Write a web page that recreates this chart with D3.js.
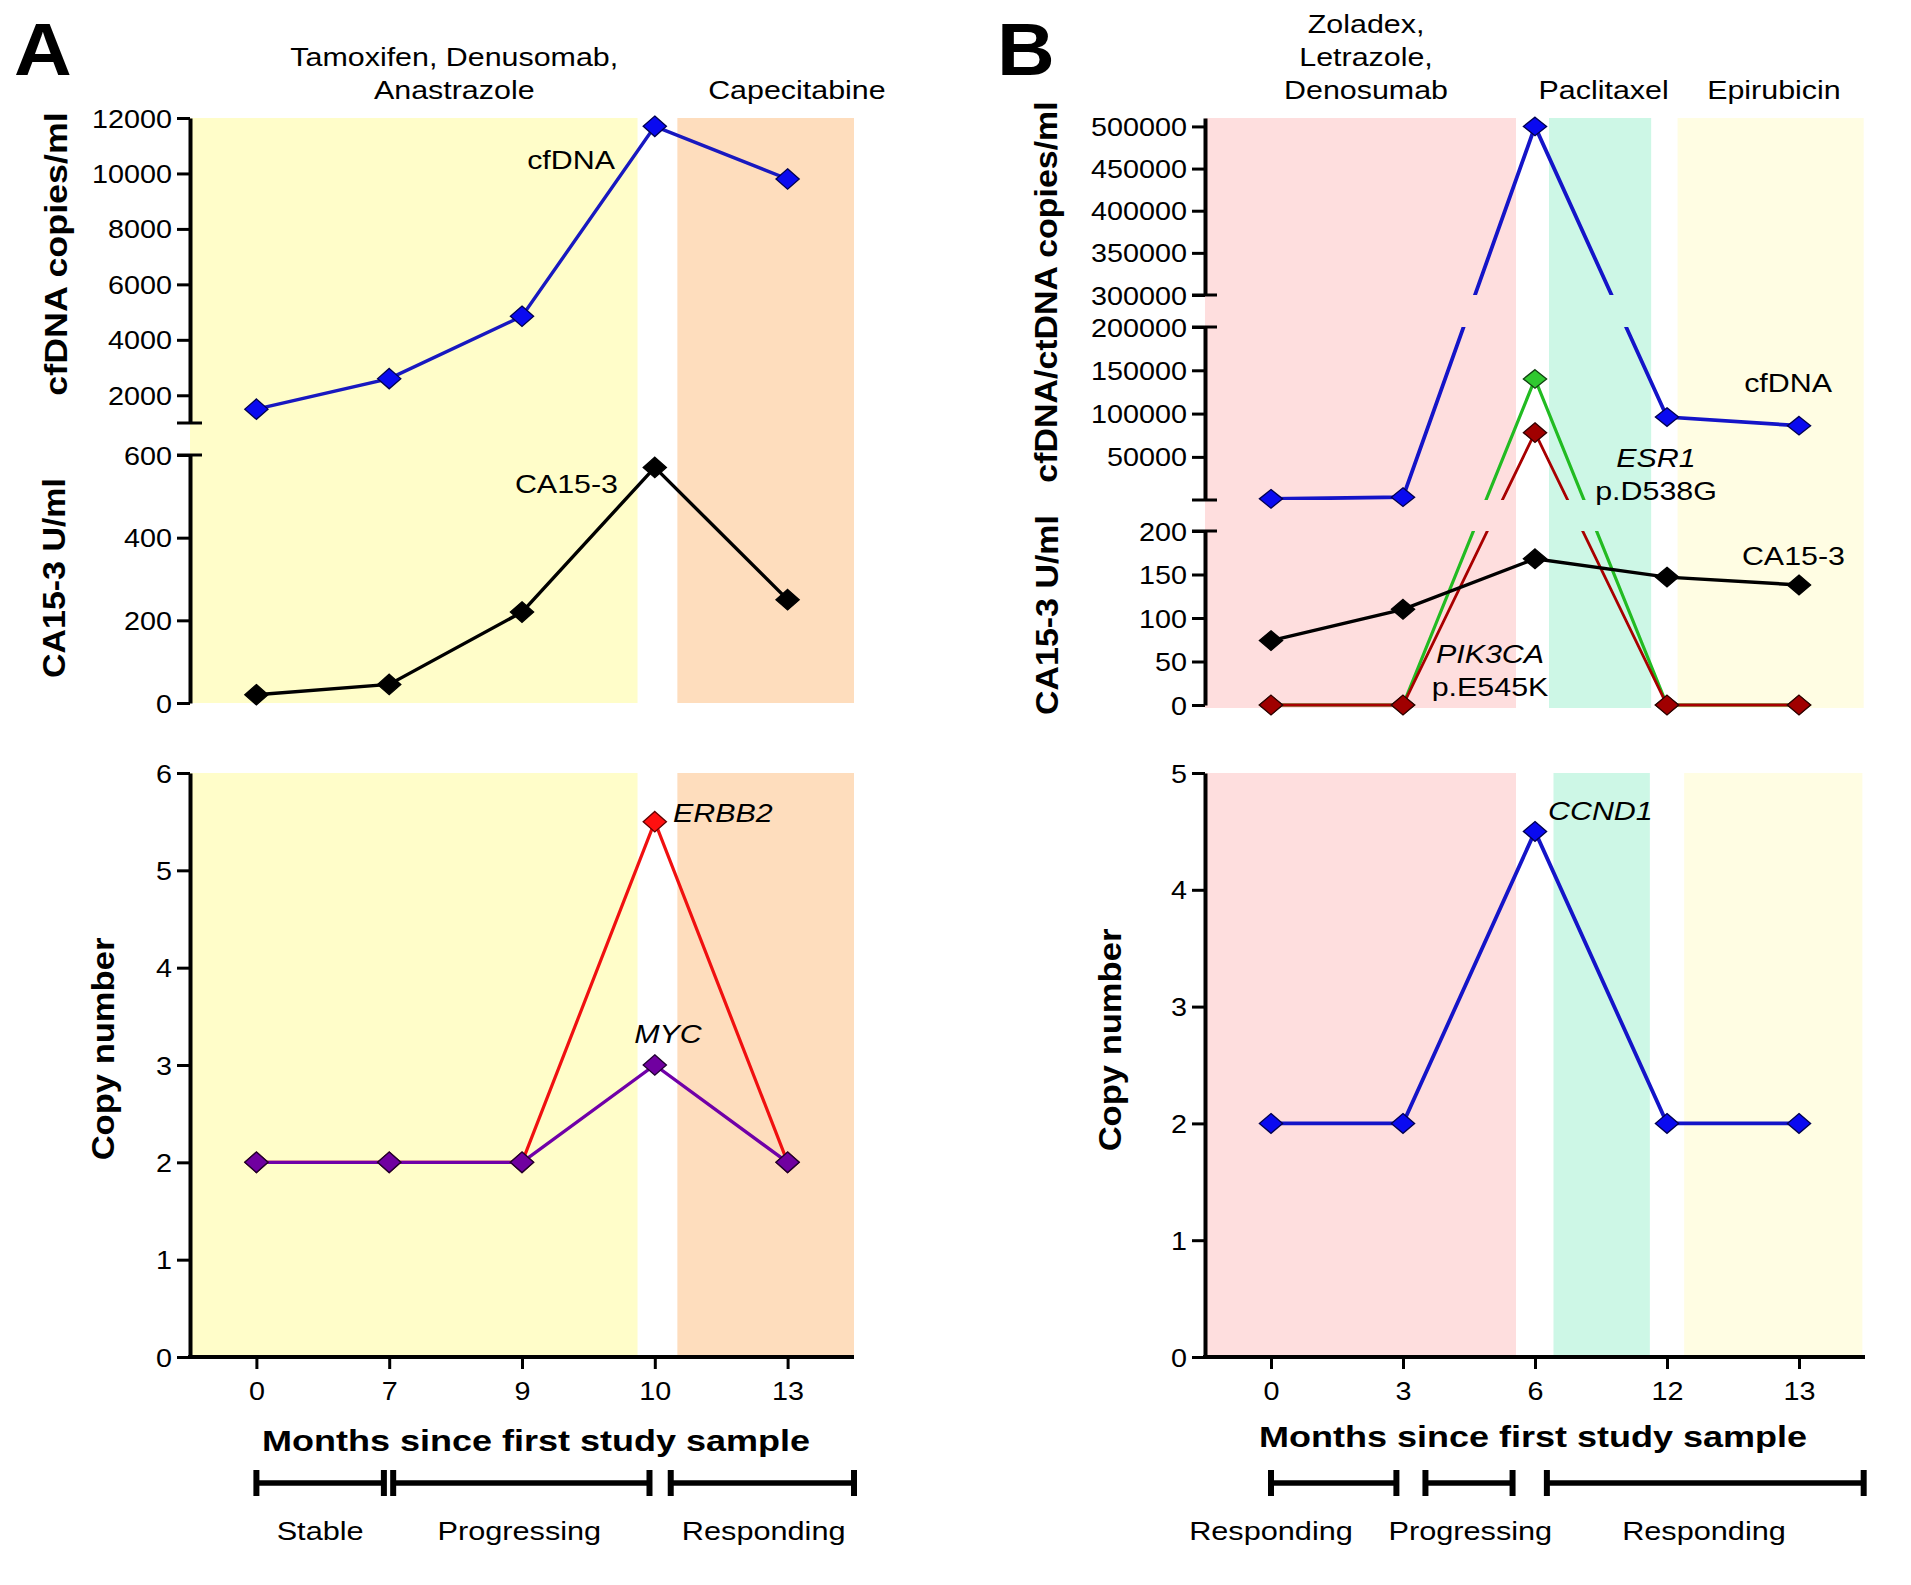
<!DOCTYPE html>
<html><head><meta charset="utf-8">
<script src="https://cdn.jsdelivr.net/npm/d3@7"></script>
<style>
body{margin:0;background:#fff;}
text{font-family:"Liberation Sans",Arial,Helvetica,sans-serif;fill:#000;}
</style></head><body><svg id="c" width="1911" height="1585"></svg>
<script>
// ---------------- DATA ----------------
const monthsA = ["0","7","9","10","13"];
const cfdnaA  = [1500, 2600, 4850, 11700, 9800];
const ca153A  = [20, 45, 220, 570, 250];
const erbb2A  = [2, 2, 2, 5.5, 2];
const mycA    = [2, 2, 2, 3, 2];

const monthsB = ["0","3","6","12","13"];
const cfdnaB  = [1500, 3500, 500000, 96000, 86000];
const esr1B   = [0, 0, 140000, 0, 0];
const pik3caB = [0, 0, 78000, 0, 0];
const ca153B  = [74, 110, 168, 147, 138];
const ccnd1B  = [2, 2, 4.5, 2, 2];

const ticksA_cfdna = [2000, 4000, 6000, 8000, 10000, 12000];
const ticksA_ca    = [0, 200, 400, 600];
const ticksA_cn    = [0, 1, 2, 3, 4, 5, 6];
const ticksB_high  = [300000, 350000, 400000, 450000, 500000];
const ticksB_mid   = [50000, 100000, 150000, 200000];
const ticksB_ca    = [0, 50, 100, 150, 200];
const ticksB_cn    = [0, 1, 2, 3, 4, 5];

const treatA = [["Tamoxifen, Denusomab,", "Anastrazole"], ["Capecitabine"]];
const treatB = [["Zoladex,", "Letrazole,", "Denosumab"], ["Paclitaxel"], ["Epirubicin"]];
const phasesA = ["Stable", "Progressing", "Responding"];
const phasesB = ["Responding", "Progressing", "Responding"];
const xTitle = "Months since first study sample";

// ---------------- LAYOUT ----------------
const svg = d3.select("#c");
svg.append("rect").attr("width",1911).attr("height",1585).attr("fill","#fff");

function label(g, str, x, y, o={}) {
  return g.append("text")
    .attr("transform", `translate(${x},${y})` + (o.rot ? ` rotate(${o.rot})` : "") + ` scale(${o.sx||1.17},1)`)
    .attr("text-anchor", o.anchor || "middle")
    .attr("font-size", o.size || 26)
    .attr("font-weight", o.weight || "normal")
    .attr("font-style", o.italic ? "italic" : "normal")
    .text(str);
}
function segScale(segs) {
  const sc = segs.map(s => d3.scaleLinear().domain(s.d).range(s.r));
  const f = v => {
    for (let i = 0; i < segs.length; i++) if (v >= segs[i].d[0] && v <= segs[i].d[1]) return sc[i](v);
    return sc[sc.length-1](v);
  };
  f.parts = sc;
  return f;
}
function yAxis(g, axisX, scale, ticks) {
  const ax = g.append("g").attr("transform", `translate(${axisX},0)`)
    .call(d3.axisLeft(scale).tickValues(ticks).tickSize(13).tickSizeOuter(0).tickFormat(d3.format("d")));
  ax.attr("font-size", null).attr("font-family", null);
  ax.select(".domain").attr("stroke", "#000").attr("stroke-width", 4);
  ax.selectAll(".tick line").attr("stroke", "#000").attr("stroke-width", 3);
  ax.selectAll(".tick text").attr("x", null).attr("dy", null).attr("fill", "#000")
    .attr("font-size", 25).attr("transform", "translate(-18,9) scale(1.15,1)");
  return ax;
}
function breakMark(g, axisX, y) {
  g.append("line").attr("x1", axisX-13).attr("x2", axisX+12).attr("y1", y).attr("y2", y)
    .attr("stroke", "#000").attr("stroke-width", 3);
}
function xAxis(g, y, x) {
  const ax = g.append("g").attr("transform", `translate(0,${y})`)
    .call(d3.axisBottom(x).tickSize(12).tickSizeOuter(0));
  ax.attr("font-size", null).attr("font-family", null);
  const r = x.range();
  ax.select(".domain").attr("d", `M${r[0]-2},0H${r[1]}`).attr("stroke", "#000").attr("stroke-width", 4);
  ax.selectAll(".tick line").attr("stroke", "#000").attr("stroke-width", 3);
  ax.selectAll(".tick text").attr("y", null).attr("dy", null).attr("fill", "#000")
    .attr("font-size", 25).attr("transform", "translate(0,43) scale(1.15,1)");
}
function bands(g, idx, y0, y1, list) {
  list.forEach(b => g.append("rect").attr("x", idx(b[0])).attr("width", idx(b[1]) - idx(b[0]))
    .attr("y", y0).attr("height", y1 - y0).attr("fill", b[2]));
}
function series(g, x, cats, vals, y, color, w, clip) {
  g.append("path").datum(vals)
    .attr("d", d3.line().x((d,i) => x(cats[i])).y(d => y(d)))
    .attr("fill", "none").attr("stroke", color).attr("stroke-width", w)
    .attr("clip-path", clip ? `url(#${clip})` : null);
}
function markers(g, x, cats, vals, y, fill, stroke, ry) {
  g.append("g").selectAll("path").data(vals).join("path")
    .attr("d", d3.symbol(d3.symbolSquare, 270))
    .attr("transform", (d,i) => `translate(${x(cats[i])},${y(d)}) scale(1,${ry}) rotate(45)`)
    .attr("fill", fill).attr("stroke", stroke).attr("stroke-width", 1.3)
    .attr("vector-effect", "non-scaling-stroke");
}
function brackets(g, idx, y, names, spans) {
  names.forEach((n, i) => {
    const s = spans[i], x0 = idx(s[0]), x1 = idx(s[1]);
    g.append("line").attr("x1", x0).attr("x2", x1).attr("y1", y).attr("y2", y)
      .attr("stroke", "#000").attr("stroke-width", 5.5);
    [x0, x1].forEach(xx => g.append("line").attr("x1", xx).attr("x2", xx)
      .attr("y1", y-13).attr("y2", y+13).attr("stroke", "#000").attr("stroke-width", 6));
    label(g, n, idx(s[2]), 1540, {size: 26, sx: 1.18});
  });
}
function treatments(g, idx, list, pos) {
  list.forEach((lines, i) => {
    const n = lines.length;
    lines.forEach((t, j) => label(g, t, idx(pos[i]), 99 - (n-1-j)*33, {size: 26, sx: 1.17}));
  });
}

// ---------------- PANEL A ----------------
(function(){
  const g = svg.append("g");
  const axisX = 190;
  const x = d3.scalePoint().domain(monthsA).range([190, 854]).padding(0.5);
  const idx = d3.scaleLinear().domain([0, monthsA.length-1]).range([x(monthsA[0]), x(monthsA[monthsA.length-1])]);
  const yTop = segScale([{d:[0,600], r:[703,455]}, {d:[1000,12000], r:[423,118]}]);
  const yCn = d3.scaleLinear().domain([0,6]).range([1357,773]);

  bands(g, idx, yTop(12000), yTop(0), [[-0.5, 2.87, "#FFFDC9"], [3.17, 4.5, "#FEDDBD"]]);
  bands(g, idx, yCn(6), yCn(0), [[-0.5, 2.87, "#FFFDC9"], [3.17, 4.5, "#FEDDBD"]]);

  yAxis(g, axisX, yTop.parts[1], ticksA_cfdna);
  yAxis(g, axisX, yTop.parts[0], ticksA_ca);
  breakMark(g, axisX, 423); breakMark(g, axisX, 455);
  yAxis(g, axisX, yCn, ticksA_cn);
  xAxis(g, 1357, x);

  series(g, x, monthsA, cfdnaA, yTop, "#1818C0", 3.4);
  series(g, x, monthsA, ca153A, yTop, "#000", 3.4);
  series(g, x, monthsA, erbb2A, yCn, "#F01010", 3.2);
  series(g, x, monthsA, mycA, yCn, "#7000A8", 3.4);
  markers(g, x, monthsA, cfdnaA, yTop, "#0A0AF0", "#000050", 0.88);
  markers(g, x, monthsA, ca153A, yTop, "#000", "#000", 0.88);
  markers(g, x, monthsA, erbb2A, yCn, "#FF1010", "#600000", 0.88);
  markers(g, x, monthsA, mycA, yCn, "#7000A0", "#200030", 0.88);

  label(g, "A", 14, 75, {size: 74, weight: "bold", anchor: "start", sx: 1.08});
  treatments(g, idx, treatA, [1.49, 4.07]);
  label(g, "cfDNA", 615, 169, {anchor: "end"});
  label(g, "CA15-3", 618, 493, {anchor: "end"});
  label(g, "ERBB2", 673, 822, {anchor: "start", italic: true});
  label(g, "MYC", 668, 1043, {italic: true});

  label(g, "cfDNA copies/ml", 67, 254, {rot: -90, size: 32, weight: "bold", sx: 1.12});
  label(g, "CA15-3 U/ml", 65, 578, {rot: -90, size: 32, weight: "bold", sx: 1.06});
  label(g, "Copy number", 114, 1049, {rot: -90, size: 32, weight: "bold", sx: 1.08});
  label(g, xTitle, 536, 1451, {size: 30, weight: "bold", sx: 1.2});
  brackets(g, idx, 1483, phasesA, [[0, 0.96, 0.48], [1.03, 2.96, 1.98], [3.12, 4.5, 3.82]]);
})();

// ---------------- PANEL B ----------------
(function(){
  const g = svg.append("g");
  const axisX = 1205;
  const x = d3.scalePoint().domain(monthsB).range([1205, 1865]).padding(0.5);
  const idx = d3.scaleLinear().domain([0, monthsB.length-1]).range([x(monthsB[0]), x(monthsB[monthsB.length-1])]);
  const yTop = segScale([{d:[0,200], r:[705,531]}, {d:[200,200000], r:[500,327]}, {d:[300000,510000], r:[295,118]}]);
  const yCn = d3.scaleLinear().domain([0,5]).range([1357,773]);

  const defs = svg.append("defs");
  const cp = defs.append("clipPath").attr("id", "gapclip");
  [[0,295],[327,500],[531,1585]].forEach(r => cp.append("rect").attr("x",0).attr("width",1911).attr("y",r[0]).attr("height",r[1]-r[0]));

  bands(g, idx, yTop(510000), yTop(0)+3, [[-0.5, 1.856, "#FEDEDE"], [2.106, 2.88, "#CDF7E6"], [3.08, 4.49, "#FFFDE3"]]);
  bands(g, idx, yCn(5), yCn(0), [[-0.5, 1.856, "#FEDEDE"], [2.14, 2.87, "#CDF7E6"], [3.13, 4.48, "#FFFDE3"]]);

  yAxis(g, axisX, yTop.parts[2], ticksB_high);
  yAxis(g, axisX, yTop.parts[1], ticksB_mid);
  yAxis(g, axisX, yTop.parts[0], ticksB_ca);
  [295, 327, 500, 531].forEach(v => breakMark(g, axisX, v));
  yAxis(g, axisX, yCn, ticksB_cn);
  xAxis(g, 1357, x);

  series(g, x, monthsB, cfdnaB, yTop, "#1414C8", 3.8, "gapclip");
  series(g, x, monthsB, esr1B, yTop, "#22BB22", 3.2, "gapclip");
  series(g, x, monthsB, pik3caB, yTop, "#A80000", 2.8, "gapclip");
  series(g, x, monthsB, ca153B, yTop, "#000", 3.4, "gapclip");
  series(g, x, monthsB, ccnd1B, yCn, "#1414C8", 3.8);
  markers(g, x, monthsB, cfdnaB, yTop, "#0A0AF0", "#000050", 0.8);
  markers(g, x, monthsB, esr1B, yTop, "#30C830", "#104010", 0.8);
  markers(g, x, monthsB, pik3caB, yTop, "#A00000", "#300000", 0.85);
  markers(g, x, monthsB, ca153B, yTop, "#000", "#000", 0.85);
  markers(g, x, monthsB, ccnd1B, yCn, "#0A0AF0", "#000050", 0.85);

  label(g, "B", 997, 75, {size: 74, weight: "bold", anchor: "start", sx: 1.08});
  treatments(g, idx, treatB, [0.72, 2.52, 3.81]);
  label(g, "cfDNA", 1832, 392, {anchor: "end"});
  label(g, "ESR1", 1656, 467, {italic: true});
  label(g, "p.D538G", 1656, 500);
  label(g, "CA15-3", 1845, 565, {anchor: "end"});
  label(g, "PIK3CA", 1490, 663, {italic: true});
  label(g, "p.E545K", 1490, 696);
  label(g, "CCND1", 1548, 820, {anchor: "start", italic: true});

  label(g, "cfDNA/ctDNA copies/ml", 1057, 292, {rot: -90, size: 32, weight: "bold", sx: 1.06});
  label(g, "CA15-3 U/ml", 1058, 615, {rot: -90, size: 32, weight: "bold", sx: 1.06});
  label(g, "Copy number", 1121, 1040, {rot: -90, size: 32, weight: "bold", sx: 1.08});
  label(g, xTitle, 1533, 1447, {size: 30, weight: "bold", sx: 1.2});
  brackets(g, idx, 1483, phasesB, [[0, 0.95, 0], [1.17, 1.83, 1.51], [2.09, 4.49, 3.28]]);
})();
</script></body></html>
